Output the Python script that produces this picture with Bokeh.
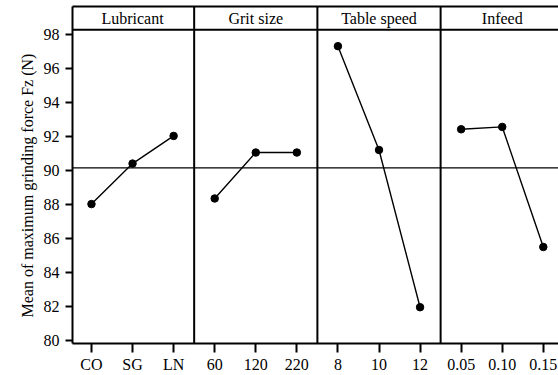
from bokeh.plotting import figure
from bokeh.models import FixedTicker, Span, LinearAxis, Range1d, Title
from bokeh.core.properties import value
from bokeh.embed import file_html
from bokeh.resources import INLINE

factors = ["Lubricant", "Grit size", "Table speed", "Infeed"]
levels = [["CO", "SG", "LN"], ["60", "120", "220"], ["8", "10", "12"], ["0.05", "0.10", "0.15"]]
means = [[88.02, 90.41, 92.04],
         [88.35, 91.06, 91.06],
         [97.33, 91.21, 81.94],
         [92.43, 92.57, 85.49]]
y_ticks = [80, 82, 84, 86, 88, 90, 92, 94, 96, 98]
y_label = "Mean of maximum grinding force Fz (N)"

FONT = "Liberation Serif"
n = len(levels[0])
all_vals = [v for row in means for v in row]
grand_mean = sum(all_vals) / len(all_vals)

Y0, Y1 = 79.8, 99.67
X0, X1 = -0.462, 11.37
y_top_data = 98.3
p = figure(width=558, height=375, output_backend="svg", toolbar_location=None,
           x_range=Range1d(X0, X1), y_range=Range1d(Y0, Y1),
           min_border_left=72, min_border_right=0, min_border_top=6, min_border_bottom=32)
p.outline_line_color = None
p.xgrid.visible = False
p.ygrid.visible = False
p.background_fill_color = "white"
p.border_fill_color = "white"

# x axis
tick_pos = []
overrides = {}
for i, lv in enumerate(levels):
    for j, lab in enumerate(lv):
        x = i * n + j
        tick_pos.append(x)
        overrides[x] = lab
p.xaxis.ticker = FixedTicker(ticks=tick_pos)
p.xaxis.major_label_overrides = overrides
p.xaxis.minor_tick_line_color = None
p.xaxis.major_tick_in = 0
p.xaxis.major_tick_out = 9
p.xaxis.major_tick_line_width = 2
p.xaxis.axis_line_width = 2
p.xaxis.major_label_text_font = FONT
p.xaxis.major_label_text_font_size = "16px"
p.xaxis.major_label_text_color = "black"
p.xaxis.major_label_standoff = 3

# y axis
p.yaxis.ticker = FixedTicker(ticks=y_ticks)
p.yaxis.minor_tick_line_color = None
p.yaxis.major_tick_in = 0
p.yaxis.major_tick_out = 7
p.yaxis.major_tick_line_width = 2
p.yaxis.axis_line_width = 2
p.yaxis.major_label_text_font = FONT
p.yaxis.major_label_text_font_size = "16px"
p.yaxis.major_label_text_color = "black"
p.yaxis.major_label_standoff = 6

# y label as a left title, placed along the data area
p.add_layout(Title(text=y_label, align="left", offset=26, standoff=9,
                   text_font=FONT, text_font_size="16px", text_font_style="normal",
                   text_color="black"), "left")

# top border as an axis with no ticks
top = LinearAxis(ticker=FixedTicker(ticks=[]), axis_line_width=2,
                 major_label_text_font_size="0px", major_tick_line_color=None,
                 minor_tick_line_color=None)
p.add_layout(top, "above")

# header separator and panel dividers
p.add_layout(Span(location=y_top_data, dimension="width", line_color="black", line_width=2))
for i in range(1, len(levels)):
    p.add_layout(Span(location=i * n - 0.5, dimension="height", line_color="black", line_width=2))

# grand mean reference line
p.add_layout(Span(location=grand_mean, dimension="width", line_color="black", line_width=1.3))

# data
for i, row in enumerate(means):
    xs = [i * n + j for j in range(len(row))]
    p.line(xs, row, line_color="black", line_width=1.4)
    p.scatter(xs, row, size=7.5, fill_color="black", line_color="black")
    p.text(x=[i * n + 1], y=[(y_top_data + Y1) / 2], text=[factors[i]],
           text_font=value(FONT), text_font_size="16px", text_align="center",
           text_baseline="middle", text_color="black")

open("out.html", "w").write(file_html(p, INLINE))
